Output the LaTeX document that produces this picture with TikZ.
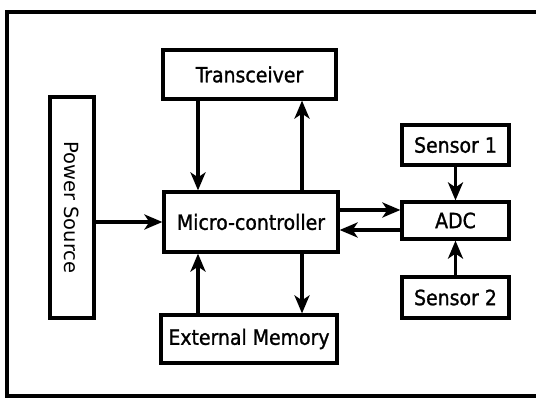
\documentclass[tikz,border=0pt]{standalone}
\usepackage{fontspec}
\setmainfont{DejaVu Sans}
\newfontfamily\blockfont{DejaVu Sans Condensed}[FakeBold=1.2]
\usetikzlibrary{arrows.meta}
\begin{document}
\begin{tikzpicture}[x=1pt,y=-1pt,
  block/.style={draw, line width=3.2pt, inner sep=0pt, align=center,
    font=\blockfont\fontsize{21}{25}\selectfont},
  flow/.style={line width=3.4pt,
    -{Stealth[length=18pt,width=15pt,inset=5pt]}},
  frame/.style={line width=3.2pt}]
\useasboundingbox (0,0) rectangle (536,398);
% outer frame (runs off the right edge)
\draw[frame] (545,12) -- (7,12) -- (7,396) -- (545,396);
% blocks
\node[block, minimum width=173pt, minimum height=49pt] (trans) at (249.5,74.5) {Transceiver};
\node[block, minimum width=44pt, minimum height=221pt] (power) at (72,207.5) {};
\node[rotate=-90, font=\fontsize{19.5}{23}\selectfont] (powerlbl) at (power.center) {Power Source};
\node[block, minimum width=174pt, minimum height=60pt] (mc) at (251,222) {Micro-controller};
\node[block, minimum width=176pt, minimum height=48pt] (ext) at (249,339) {External Memory};
\node[block, minimum width=107pt, minimum height=40pt] (s1) at (455.5,145) {Sensor 1};
\node[block, minimum width=107pt, minimum height=37pt] (adc) at (455.5,220.5) {ADC};
\node[block, minimum width=107pt, minimum height=41pt] (s2) at (455.5,297.5) {Sensor 2};
% connector lanes
\coordinate (laneL) at (198,0);
\coordinate (laneR) at (302,0);
\coordinate (laneA) at (0,210);
\coordinate (laneB) at (0,230);
% connectors
\draw[flow] (trans.south -| laneL) -- (mc.north -| laneL);
\draw[flow] (mc.north -| laneR) -- (trans.south -| laneR);
\draw[flow] (ext.north -| laneL) -- (mc.south -| laneL);
\draw[flow] (mc.south -| laneR) -- (ext.north -| laneR);
\draw[flow] (power.east |- mc.west) -- (mc.west);
\draw[flow] (mc.east |- laneA) -- (adc.west |- laneA);
\draw[flow] (adc.west |- laneB) -- (mc.east |- laneB);
\draw[flow] (s1.south) -- (adc.north);
\draw[flow] (s2.north) -- (adc.south);
\end{tikzpicture}
\end{document}
